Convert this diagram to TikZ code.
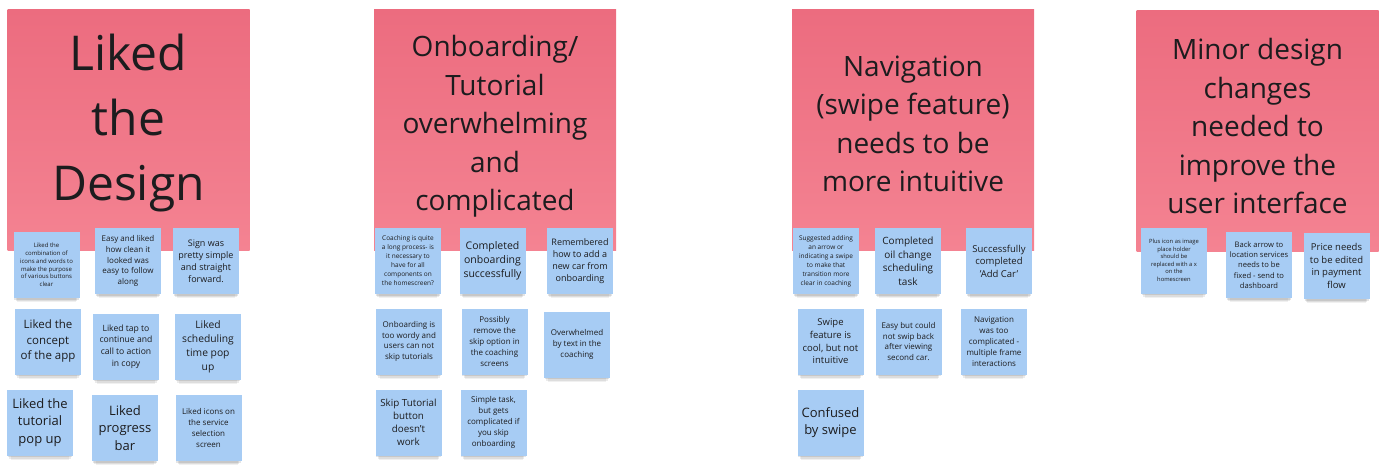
\documentclass[tikz,border=0pt]{standalone}
\usepackage{fontspec}
\setmainfont{Open Sans}
\usepackage{tikz}
\usetikzlibrary{shadows}
\definecolor{pinktop}{RGB}{236,108,127}
\definecolor{pinkbot}{RGB}{244,131,146}
\definecolor{noteblue}{RGB}{167,204,244}
\definecolor{inkgray}{RGB}{28,28,30}
\tikzset{
  softshadow/.style={
    general shadow={fill=black, opacity=0.10, shadow xshift=0pt, shadow yshift=-3pt, shadow scale=0.97},
    general shadow={fill=black, opacity=0.08, shadow xshift=0pt, shadow yshift=-6pt, shadow scale=0.93},
    general shadow={fill=black, opacity=0.06, shadow xshift=0pt, shadow yshift=-9pt, shadow scale=0.89}},
  topicnote/.style={rectangle, top color=pinktop, bottom color=pinkbot, minimum width=242pt, minimum height=241pt, inner sep=0pt, softshadow},
  topictext/.style={align=center, text=inkgray, inner sep=0pt},
  stickynote/.style={rectangle, fill=noteblue, minimum width=66pt, minimum height=66pt, inner sep=0pt, align=center, text=inkgray, softshadow},
  bigtxt/.style={font=\fontsize{48}{65}\selectfont},
  midtxt/.style={font=\fontsize{28}{38.5}\selectfont}
}

\begin{document}
\begin{tikzpicture}[x=1pt, y=-1pt]
  \useasboundingbox (0,0) rectangle (1384,469);
  % topic notes
  \node[topicnote] (liked) at (128.5,130) {};
  \node[topicnote] (onboard) at (495,129.5) {};
  \node[topicnote] (navig) at (913,130) {};
  \node[topicnote] (minor) at (1257.5,131) {};
  \node[topictext, bigtxt] (likedtxt) at ([yshift=7pt]liked.center) {Liked\\the\\Design};
  \node[topictext, midtxt] (onboardtxt) at ([yshift=3pt]onboard.center) {Onboarding/\\Tutorial\\overwhelming\\and\\complicated};
  \node[topictext, midtxt] (navigtxt) at ([yshift=6pt]navig.center) {Navigation\\(swipe feature)\\needs to be\\more intuitive};
  \node[topictext, midtxt] (minortxt) at ([yshift=5pt]minor.center) {Minor design\\changes\\needed to\\improve the\\user interface};

  % liked the design
  \node[stickynote, font=\fontsize{6}{7.8}\selectfont] (liked1) at (46.5,265) {Liked the\\combination of\\icons and words to\\make the purpose\\of various buttons\\clear};
  \node[stickynote, font=\fontsize{8}{10.7}\selectfont] (liked2) at (128,261) {Easy and liked\\how clean it\\looked was\\easy to follow\\along};
  \node[stickynote, font=\fontsize{9}{11.9}\selectfont] (liked3) at (206,261) {Sign was\\pretty simple\\and straight\\forward.};
  \node[stickynote, font=\fontsize{11.5}{15.5}\selectfont] (liked4) at (48,341.5) {Liked the\\concept\\of the app};
  \node[stickynote, font=\fontsize{8.6}{11.7}\selectfont] (liked5) at (126,346.5) {Liked tap to\\continue and\\call to action\\in copy};
  \node[stickynote, font=\fontsize{10.3}{13.9}\selectfont] (liked6) at (208,346.5) {Liked\\scheduling\\time pop\\up};
  \node[stickynote, font=\fontsize{13}{17.5}\selectfont] (liked7) at (40,422.5) {Liked the\\tutorial\\pop up};
  \node[stickynote, font=\fontsize{13}{17.5}\selectfont] (liked8) at (125,428) {Liked\\progress\\bar};
  \node[stickynote, font=\fontsize{8}{10.8}\selectfont] (liked9) at (208.5,428) {Liked icons on\\the service\\selection\\screen};

  % onboarding
  \node[stickynote, font=\fontsize{6.5}{9}\selectfont] (onb1) at (408,261) {Coaching is quite\\a long process- is\\it necessary to\\have for all\\components on\\the homescreen?};
  \node[stickynote, font=\fontsize{10.5}{14}\selectfont] (onb2) at (492.5,261) {Completed\\onboarding\\successfully};
  \node[stickynote, font=\fontsize{9}{11.9}\selectfont] (onb3) at (580,261) {Remembered\\how to add a\\new car from\\onboarding};
  \node[stickynote, font=\fontsize{8}{10.6}\selectfont] (onb4) at (409,341.5) {Onboarding is\\too wordy and\\users can not\\skip tutorials};
  \node[stickynote, font=\fontsize{8}{10.8}\selectfont] (onb5) at (494.5,341.5) {Possibly\\remove the\\skip option in\\the coaching\\screens};
  \node[stickynote, font=\fontsize{8}{10.8}\selectfont] (onb6) at (577,344.5) {Overwhelmed\\by text in the\\coaching};
  \node[stickynote, font=\fontsize{9.8}{13}\selectfont] (onb7) at (408.5,422.5) {Skip Tutorial\\button\\doesn't\\work};
  \node[stickynote, font=\fontsize{8}{10.8}\selectfont] (onb8) at (493.5,422.5) {Simple task,\\but gets\\complicated if\\you skip\\onboarding};

  % navigation
  \node[stickynote, font=\fontsize{6.5}{9}\selectfont] (nav1) at (826,261) {Suggested adding\\an arrow or\\indicating a swipe\\to make that\\transition more\\clear in coaching};
  \node[stickynote, font=\fontsize{10}{13.5}\selectfont] (nav2) at (908,261) {Completed\\oil change\\scheduling\\task};
  \node[stickynote, font=\fontsize{9.5}{12.5}\selectfont] (nav3) at (999,261) {Successfully\\completed\\'Add Car'};
  \node[stickynote, font=\fontsize{9.5}{12.7}\selectfont] (nav4) at (830.5,341.5) {Swipe\\feature is\\cool, but not\\intuitive};
  \node[stickynote, font=\fontsize{8}{10.6}\selectfont] (nav5) at (908.5,341.5) {Easy but could\\not swip back\\after viewing\\second car.};
  \node[stickynote, font=\fontsize{8}{10.8}\selectfont] (nav6) at (994,341.5) {Navigation\\was too\\complicated -\\multiple frame\\interactions};
  \node[stickynote, font=\fontsize{13}{17.3}\selectfont] (nav7) at (830.5,422.5) {Confused\\by swipe};

  % minor design changes
  \node[stickynote, font=\fontsize{5.8}{7.5}\selectfont] (min1) at (1174,260.5) {Plus icon as image\\place holder\\should be\\replaced with a x\\on the\\homescreen};
  \node[stickynote, font=\fontsize{7.6}{10.2}\selectfont] (min2) at (1259,265) {Back arrow to\\location services\\needs to be\\fixed - send to\\dashboard};
  \node[stickynote, font=\fontsize{9.5}{12.8}\selectfont] (min3) at (1336.5,266) {Price needs\\to be edited\\in payment\\flow};
\end{tikzpicture}
\end{document}
